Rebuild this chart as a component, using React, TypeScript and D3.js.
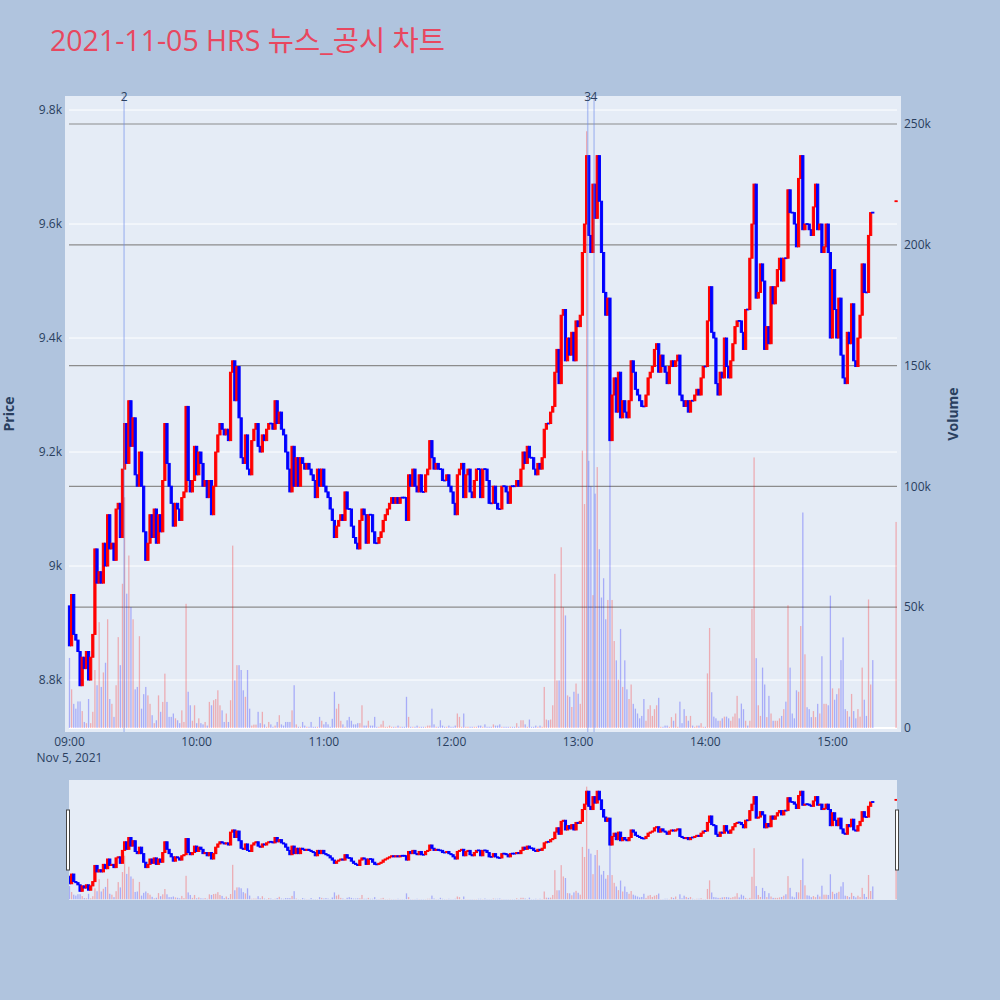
import React from "react";
import * as d3 from "d3";

// 1-minute closes from 09:00 to 15:19, then the 15:30 closing auction
const firstOpen = 8930;
const closes = [
  8860, 8950, 8880, 8870, 8850, 8790, 8840, 8820, 8850, 8800,
  8840, 8880, 9030, 8970, 8990, 8970, 9040, 9000, 9090, 9030,
  9040, 9010, 9100, 9110, 9050, 9170, 9250, 9180, 9290, 9210,
  9260, 9160, 9140, 9200, 9140, 9060, 9010, 9040, 9090, 9050,
  9100, 9040, 9090, 9060, 9150, 9250, 9180, 9140, 9110, 9070,
  9110, 9100, 9080, 9120, 9130, 9280, 9150, 9130, 9150, 9210,
  9160, 9200, 9180, 9140, 9150, 9120, 9150, 9090, 9140, 9200,
  9230, 9250, 9240, 9230, 9240, 9220, 9340, 9360, 9290, 9350,
  9260, 9190, 9180, 9230, 9170, 9160, 9220, 9240, 9250, 9210,
  9200, 9230, 9220, 9240, 9250, 9250, 9240, 9290, 9250, 9270,
  9240, 9230, 9200, 9170, 9130, 9210, 9140, 9190, 9140, 9190,
  9180, 9170, 9180, 9170, 9160, 9150, 9120, 9170, 9140, 9170,
  9140, 9130, 9120, 9100, 9080, 9050, 9070, 9080, 9090, 9080,
  9130, 9100, 9100, 9070, 9050, 9040, 9030, 9080, 9100, 9090,
  9040, 9090, 9090, 9060, 9040, 9040, 9050, 9060, 9080, 9090,
  9100, 9110, 9120, 9110, 9120, 9110, 9120, 9120, 9120, 9080,
  9160, 9140, 9170, 9140, 9130, 9160, 9130, 9130, 9160, 9170,
  9220, 9190, 9170, 9180, 9170, 9170, 9150, 9150, 9160, 9140,
  9130, 9110, 9090, 9160, 9170, 9180, 9120, 9160, 9170, 9130,
  9120, 9150, 9170, 9170, 9120, 9170, 9170, 9150, 9110, 9110,
  9140, 9110, 9100, 9100, 9140, 9140, 9130, 9110, 9140, 9140,
  9140, 9150, 9140, 9170, 9200, 9180, 9210, 9190, 9190, 9170,
  9160, 9180, 9170, 9190, 9240, 9250, 9250, 9270, 9280, 9340,
  9380, 9320, 9440, 9450, 9360, 9400, 9370, 9410, 9360, 9430,
  9420, 9440, 9550, 9600, 9720, 9580, 9550, 9670, 9610, 9720,
  9640, 9550, 9480, 9440, 9470, 9220, 9300, 9330, 9270, 9340,
  9260, 9290, 9270, 9260, 9290, 9360, 9340, 9310, 9300, 9290,
  9280, 9280, 9300, 9330, 9340, 9350, 9380, 9390, 9340, 9370,
  9350, 9340, 9320, 9350, 9360, 9350, 9360, 9370, 9300, 9290,
  9280, 9290, 9270, 9290, 9290, 9300, 9310, 9300, 9330, 9350,
  9350, 9430, 9490, 9410, 9400, 9320, 9300, 9340, 9330, 9400,
  9350, 9330, 9360, 9390, 9420, 9430, 9430, 9410, 9380, 9450,
  9450, 9540, 9600, 9670, 9470, 9480, 9530, 9500, 9380, 9420,
  9390, 9490, 9460, 9490, 9520, 9540, 9500, 9540, 9540, 9660,
  9620, 9620, 9600, 9560, 9680, 9720, 9590, 9600, 9600, 9590,
  9580, 9630, 9670, 9590, 9600, 9550, 9560, 9600, 9550, 9400,
  9520, 9450, 9400, 9470, 9370, 9330, 9320, 9410, 9390, 9460,
  9360, 9350, 9400, 9440, 9530, 9480, 9480, 9580, 9620, 9620,
];

// volume per minute, thousands of shares
const volumesK = [
  29, 16, 10, 8, 11, 11, 7, 2.5, 2, 12,
  2, 6.7, 24, 17.7, 43.8, 17, 23, 27, 45, 12,
  10, 4.6, 17.7, 37.6, 26, 59.7, 95.5, 55.6, 71.4, 50,
  45, 16, 17, 38, 8, 14, 17, 13.5, 10, 5.3,
  2, 3.2, 13.5, 6.7, 10.8, 22.5, 10.8, 4.6, 4.6, 6,
  4, 3.2, 2, 7.3, 2.5, 51.4, 15, 9.4, 3, 9.4,
  2, 4, 2, 1.5, 2.5, 1, 10.8, 9.4, 11.5, 12,
  15.6, 9.4, 7.3, 2.5, 6, 2.5, 11.5, 75.5, 19.7, 26,
  26, 24, 15.6, 12.9, 24, 8, 1, 1.4, 1.4, 6.7,
  2, 6.7, 1.5, 0.5, 2.5, 1.5, 0.5, 1, 2.5, 5.3,
  1.5, 1, 2.5, 2.5, 2.5, 7.3, 17.7, 1.5, 0.5, 0.5,
  2.5, 1, 0.5, 0.5, 2.5, 0.5, 0.5, 0.5, 4.6, 3,
  1.5, 2.5, 1.5, 0.5, 3.8, 15, 8, 10, 3, 1.5,
  0.5, 3.2, 4.6, 3, 1.5, 1.5, 2, 2, 9.4, 1,
  1, 3, 1, 1, 4.6, 0.5, 0.5, 1.5, 3, 0.5,
  0.5, 1, 0.5, 0.5, 0.5, 1, 0.5, 0.5, 0.5, 12.9,
  4.6, 0.5, 0.5, 0.5, 1, 0.5, 0.5, 0.5, 0.5, 1,
  1, 8, 1.5, 0.5, 0.5, 3.2, 1, 0.5, 0.5, 1,
  0.5, 0.5, 1, 6, 4.6, 0.5, 6, 0.5, 0.5, 0.5,
  0.5, 0.5, 0.5, 1, 1, 0.5, 1.5, 0.5, 0.5, 0.5,
  1.5, 1, 1, 1.5, 0.5, 0.5, 0.5, 0.5, 0.5, 0.5,
  0.5, 2, 0.5, 3.2, 3.2, 1.5, 0.5, 3.5, 0.5, 0.5,
  1, 0.5, 1, 0.5, 17, 3.5, 3.2, 3.5, 9.4, 63.8,
  19.7, 19.7, 74.8, 50, 46.6, 13.5, 12.9, 8.7, 15, 18.4,
  14.2, 10, 114.8, 92.7, 247, 110.6, 100, 55, 97, 108,
  74, 54, 62, 45, 53, 119, 53, 36, 28, 20,
  41, 17, 28, 16, 12, 18, 10, 8, 6, 4,
  5, 12, 3, 7.8, 9.4, 5, 7.8, 9.4, 12.5, 0.5,
  0.5, 1, 1, 0.5, 4.5, 3, 6, 0.5, 10.9, 2,
  7.8, 5, 3, 5, 1, 0.5, 1, 1, 2, 0.5,
  0.5, 22.6, 41.4, 14.8, 4.7, 4, 3, 3, 4, 4.7,
  4.7, 4, 3, 4.7, 6, 13.3, 4, 10.1, 7.8, 3,
  1, 3, 49.3, 112, 28.9, 9.4, 5, 25, 18, 4.5,
  13.3, 6, 3, 3, 3, 4, 5, 7.8, 10.9, 50.8,
  25, 6, 4, 15.6, 15, 42.2, 89.2, 30.5, 8.6, 7.8,
  4.5, 7, 4.5, 10, 6, 29.7, 10, 10, 9.4, 54.8,
  16.4, 11.7, 14, 16.4, 28.1, 37.5, 7.8, 7, 4.7, 14.1,
  7, 4, 7.8, 4.7, 25, 11.7, 5, 53.2, 18, 28.1,
];

// single-price closing auction
const closingAuction = { time: "15:30", open: 9640, close: 9640, volumeK: 85.3 };

const newsTimes = ["09:25:45", "13:04:30", "13:07:30"];
const newsLabels = ["2", "3", "4"];

const priceTicks = [8800, 9000, 9200, 9400, 9600, 9800];
const priceTickLabels = ["8.8k", "9k", "9.2k", "9.4k", "9.6k", "9.8k"];
const volumeTicks = [0, 50, 100, 150, 200, 250];
const volumeTickLabels = ["0", "50k", "100k", "150k", "200k", "250k"];

const UP = "#ff0000";
const DOWN = "#0000ff";
const TEXT = "#2a3f5f";
const FONT = "'Open Sans', verdana, arial, sans-serif";

const at = (hms: string) => {
  const [h, m, s] = hms.split(":").map(Number);
  return new Date(2021, 10, 5, h, m, s || 0);
};

type Candle = { t: Date; open: number; close: number; prev: number; vol: number };

const candles: Candle[] = closes.map((c, i) => ({
  t: new Date(2021, 10, 5, 9, i),
  open: i === 0 ? firstOpen : closes[i - 1],
  close: c,
  prev: i === 0 ? firstOpen : closes[i - 1],
  vol: volumesK[i],
}));
candles.push({
  t: at(closingAuction.time),
  open: closingAuction.open,
  close: closingAuction.close,
  prev: closes[closes.length - 1],
  vol: closingAuction.volumeK,
});

// red when rising; a flat candle takes its colour from the previous close
const isUp = (d: Candle) => (d.close !== d.open ? d.close > d.open : d.close > d.prev);

const App: React.FC = () => {
  const plot = { left: 65, right: 901, top: 96, bottom: 732 };
  const slider = { left: 69, right: 897, top: 780, bottom: 900 };

  const x = d3
    .scaleTime()
    .domain([at("08:57:53"), at("15:32:19")])
    .range([plot.left, plot.right]);

  const priceDomain = [8708.8, 9824.6];
  const volDomain = [-1.66, 261.6];

  const y = d3.scaleLinear().domain(priceDomain).range([plot.bottom, plot.top]);
  const yVol = d3.scaleLinear().domain(volDomain).range([plot.bottom, plot.top]);
  const ys = d3.scaleLinear().domain(priceDomain).range([slider.bottom, slider.top]);
  const ysVol = d3.scaleLinear().domain(volDomain).range([slider.bottom, slider.top]);

  const hourTicks = d3.timeHour.range(at("09:00"), at("15:01"));
  const fmt = d3.timeFormat("%H:%M");

  const gridL = 69;
  const gridR = 897;

  const drawCandles = (py: d3.ScaleLinear<number, number>, key: string) =>
    candles.map((d, i) => {
      const hi = Math.max(d.open, d.close);
      const lo = Math.min(d.open, d.close);
      const col = isUp(d) ? UP : DOWN;
      const h = Math.max(py(lo) - py(hi), 0.8);
      return (
        <rect
          key={key + i}
          x={x(d.t) - 1.1}
          y={(py(lo) + py(hi)) / 2 - h / 2}
          width={2.2}
          height={h}
          fill={col}
          stroke={col}
          strokeWidth={1}
        />
      );
    });

  const drawVolume = (py: d3.ScaleLinear<number, number>, key: string) =>
    candles.map((d, i) => (
      <rect
        key={key + i}
        x={x(d.t) - 0.65}
        y={py(d.vol)}
        width={1.3}
        height={Math.max(py(0) - py(d.vol), 0)}
        fill={isUp(d) ? UP : DOWN}
        opacity={0.27}
      />
    ));

  return (
    <>
      <style>{`body{margin:0}`}</style>
      <svg width={1000} height={1000} style={{ display: "block", fontFamily: FONT }}>
        <defs>
          <clipPath id="plotClip">
            <rect x={plot.left} y={plot.top} width={plot.right - plot.left} height={plot.bottom - plot.top} />
          </clipPath>
          <clipPath id="sliderClip">
            <rect x={slider.left} y={slider.top} width={slider.right - slider.left} height={slider.bottom - slider.top} />
          </clipPath>
        </defs>
        <rect width={1000} height={1000} fill="#b0c4de" />

        <text
          x={50}
          y={51}
          fontSize={28.5}
          fill="#e8475f"
          fontFamily="'Open Sans', 'Noto Sans CJK KR', sans-serif"
        >
          2021-11-05 HRS 뉴스_공시 차트
        </text>

        {/* main plot */}
        <rect x={plot.left} y={plot.top} width={plot.right - plot.left} height={plot.bottom - plot.top} fill="#e5ecf6" />
        {priceTicks.map(p => (
          <line key={"pg" + p} x1={gridL} x2={gridR} y1={y(p)} y2={y(p)} stroke="#fff" strokeWidth={1} />
        ))}
        {volumeTicks.slice(1).map(v => (
          <line key={"vg" + v} x1={gridL} x2={gridR} y1={yVol(v)} y2={yVol(v)} stroke="#8c8c8c" strokeWidth={1.2} />
        ))}
        <line x1={gridL} x2={gridR} y1={yVol(0)} y2={yVol(0)} stroke="#fff" strokeWidth={2} />

        <g clipPath="url(#plotClip)">
          {drawCandles(y, "c")}
          {drawVolume(yVol, "v")}
          {newsTimes.map((t, i) => (
            <line
              key={"n" + i}
              x1={x(at(t))}
              x2={x(at(t))}
              y1={plot.top}
              y2={plot.bottom}
              stroke="rgb(110,140,235)"
              strokeOpacity={0.45}
              strokeWidth={1.5}
            />
          ))}
        </g>
        {newsTimes.map((t, i) => (
          <text key={"nl" + i} x={x(at(t))} y={101} fontSize={12} fill={TEXT} textAnchor="middle">
            {newsLabels[i]}
          </text>
        ))}

        {/* axes */}
        {priceTicks.map((p, i) => (
          <text key={"pl" + p} x={62} y={y(p)} dy="0.35em" fontSize={12} fill={TEXT} textAnchor="end">
            {priceTickLabels[i]}
          </text>
        ))}
        {volumeTicks.map((v, i) => (
          <text key={"vl" + v} x={904} y={yVol(v)} dy="0.35em" fontSize={12} fill={TEXT} textAnchor="start">
            {volumeTickLabels[i]}
          </text>
        ))}
        {hourTicks.map(t => (
          <text key={"xt" + t.getTime()} x={x(t)} y={746} fontSize={12} fill={TEXT} textAnchor="middle">
            {fmt(t)}
          </text>
        ))}
        <text x={x(at("09:00"))} y={762} fontSize={12} fill={TEXT} textAnchor="middle">
          Nov 5, 2021
        </text>
        <text
          transform={`translate(14,${(plot.top + plot.bottom) / 2}) rotate(-90)`}
          fontSize={14}
          fontWeight="bold"
          fill={TEXT}
          textAnchor="middle"
        >
          Price
        </text>
        <text
          transform={`translate(958,${(plot.top + plot.bottom) / 2}) rotate(-90)`}
          fontSize={14}
          fontWeight="bold"
          fill={TEXT}
          textAnchor="middle"
        >
          Volume
        </text>

        {/* range slider */}
        <rect x={slider.left} y={slider.top} width={slider.right - slider.left} height={slider.bottom - slider.top} fill="#e5ecf6" />
        <g clipPath="url(#sliderClip)">
          {drawCandles(ys, "sc")}
          {drawVolume(ysVol, "sv")}
        </g>
        <rect x={66.5} y={810} width={3} height={60} fill="#fff" stroke="#444" strokeWidth={1} />
        <rect x={895.5} y={810} width={3} height={60} fill="#fff" stroke="#444" strokeWidth={1} />
      </svg>
    </>
  );
};

export default App;
